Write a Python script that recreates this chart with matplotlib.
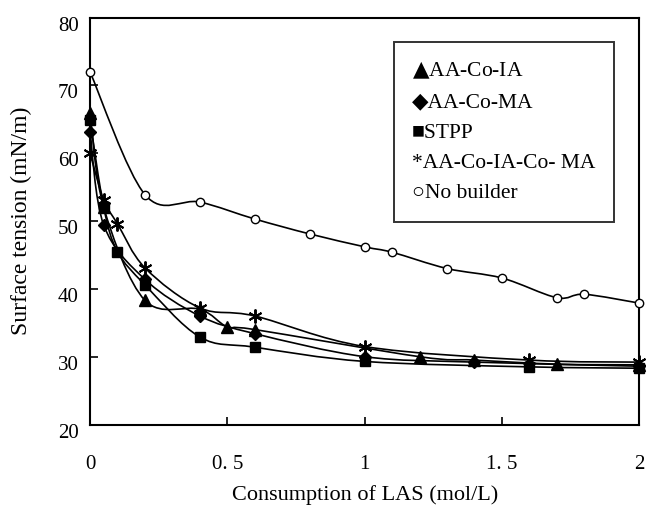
import numpy as np
import matplotlib
matplotlib.use('Agg')
import matplotlib.pyplot as plt
from matplotlib.path import Path
from matplotlib.patches import PathPatch
from matplotlib.lines import Line2D
from matplotlib.transforms import ScaledTranslation

plt.rcParams['font.family'] = ['Liberation Serif', 'DejaVu Serif']
plt.rcParams['mathtext.fontset'] = 'dejavuserif'

# data
x_ia = [0, 0.05, 0.2, 0.4, 0.5, 0.6, 1.2, 1.4, 1.7, 2.0]
y_ia = [66.0, 52.0, 38.3, 37.0, 34.4, 34.0, 30.0, 29.5, 28.9, 28.8]

x_ma = [0, 0.05, 0.2, 0.4, 0.6, 1.0, 1.4, 2.0]
y_ma = [63.2, 49.4, 41.4, 36.0, 33.4, 30.0, 29.2, 28.6]

x_stpp = [0, 0.05, 0.1, 0.2, 0.4, 0.6, 1.0, 1.6, 2.0]
y_stpp = [64.9, 52.0, 45.5, 40.6, 32.9, 31.4, 29.3, 28.5, 28.3]

x_mix = [0, 0.05, 0.1, 0.2, 0.4, 0.6, 1.0, 1.6, 2.0]
y_mix = [60.0, 53.1, 49.6, 43.1, 37.2, 36.0, 31.5, 29.5, 29.2]

x_nob = [0, 0.2, 0.4, 0.6, 0.8, 1.0, 1.1, 1.3, 1.5, 1.7, 1.8, 2.0]
y_nob = [72.0, 53.9, 52.8, 50.3, 48.1, 46.2, 45.4, 43.0, 41.6, 38.7, 39.2, 37.9]

# legend in the original is plain text with symbol characters
labels = ['$\u25b2$AA-Co-IA', '\u25c6AA-Co-MA', '\u25a0STPP',
          '*AA-Co-IA-Co- MA', '\u25cbNo builder']
xticks = [0, 0.5, 1, 1.5, 2]
xticklabels = ['0', '0. 5', '1', '1. 5', '2']
yticks = [20, 30, 40, 50, 60, 70, 80]


def smooth_path(xs, ys):
    # excel like smoothed line: bezier segments through the points
    p = np.column_stack([xs, ys]).astype(float)
    n = len(p)
    verts = [p[0]]
    codes = [Path.MOVETO]
    for i in range(n - 1):
        p0 = p[i - 1] if i > 0 else p[i]
        p1 = p[i]
        p2 = p[i + 1]
        p3 = p[i + 2] if i + 2 < n else p[i + 1]
        c1 = p1 + (p2 - p0) / 6.0
        c2 = p2 - (p3 - p1) / 6.0
        verts += [c1, c2, p2]
        codes += [Path.CURVE4] * 3
    return Path(verts, codes)


fig = plt.figure(figsize=(6.49, 5.13), dpi=100)
ax = fig.add_axes([0.1387, 0.1725, 0.8463, 0.7932])

series = [
    (x_ia, y_ia, dict(marker='^', ms=8, mfc='black')),
    (x_ma, y_ma, dict(marker='D', ms=6, mfc='black')),
    (x_stpp, y_stpp, dict(marker='s', ms=7, mfc='black')),
    (x_mix, y_mix, dict(marker=(6, 2, 0), ms=10, mew=1.4)),
    (x_nob, y_nob, dict(marker='o', ms=6, mfc='white', mew=1.0)),
]

for xs, ys, st in series:
    ax.add_patch(PathPatch(smooth_path(xs, ys), fc='none', ec='black', lw=1.2, zorder=2))
    ax.plot(xs, ys, ls='none', color='black', zorder=3, clip_on=False, **st)

ax.set_xlim(0, 2)
ax.set_ylim(20, 80)
ax.set_xticks(xticks)
ax.set_xticklabels(xticklabels)
ax.set_yticks(yticks)
for s in ax.spines.values():
    s.set_linewidth(1.5)
ax.tick_params(direction='in', length=6, width=1.2, labelsize=15)
ax.tick_params(axis='x', pad=22)
ax.tick_params(axis='y', pad=8)

# y labels sit a little below their ticks in the original
off = ScaledTranslation(0, -0.06, fig.dpi_scale_trans)
for lab in ax.get_yticklabels():
    lab.set_transform(lab.get_transform() + off)

ax.set_xlabel('Consumption of LAS (mol/L)', fontsize=16)
ax.xaxis.set_label_coords(0.5, -0.15)
ax.set_ylabel('Surface tension (mN/m)', fontsize=17)
ax.yaxis.set_label_coords(-0.105, 0.5)

handles = [Line2D([], [], ls='none', marker='none') for _ in labels]
leg = ax.legend(handles, labels, loc='upper left', bbox_to_anchor=(0.553, 0.94),
                fontsize=15.5, frameon=True, fancybox=False, edgecolor='black',
                handlelength=0, handletextpad=0, labelspacing=0.48,
                borderpad=0.85, borderaxespad=0)
leg.get_frame().set_linewidth(1.4)

fig.savefig('out.png', dpi=100)
